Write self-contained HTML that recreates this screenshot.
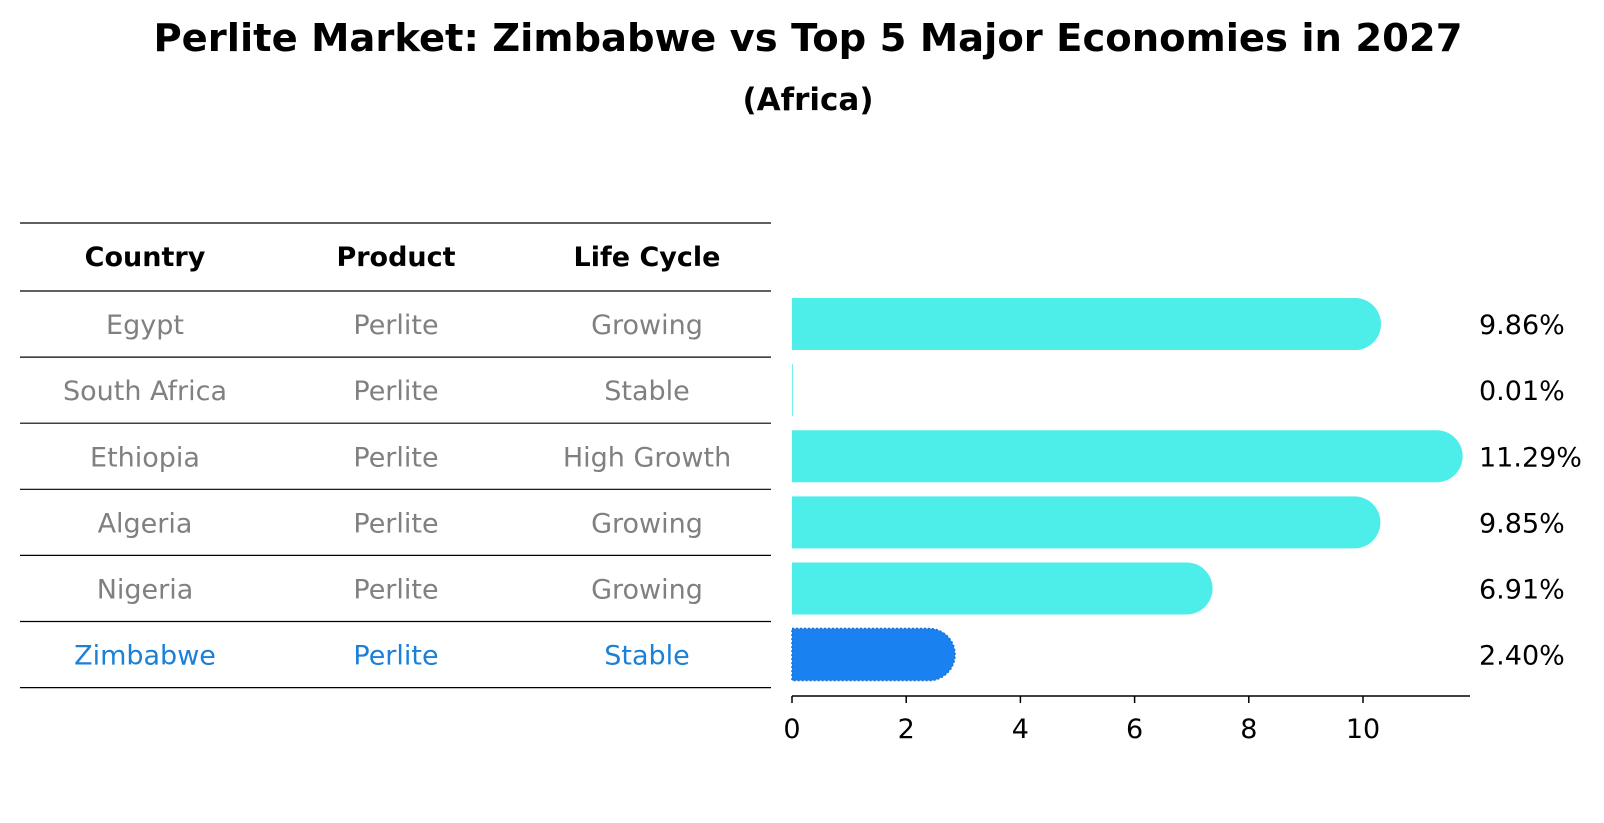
<!DOCTYPE html>
<html><head><meta charset="utf-8"><style>
body{margin:0;background:#fff;}
svg{display:block;font-family:"DejaVu Sans","Liberation Sans",sans-serif;}
</style></head><body>
<svg id="chart" width="1604" height="823" viewBox="0 0 1604 823">
<text x="808" y="51" text-anchor="middle" font-size="38.5" font-weight="bold">Perlite Market: Zimbabwe vs Top 5 Major Economies in 2027</text>
<text x="808" y="110" text-anchor="middle" font-size="31" font-weight="bold">(Africa)</text>
<g id="table"></g>
<g id="bars"></g>
</svg>
<script>
const countries=["Egypt","South Africa","Ethiopia","Algeria","Nigeria","Zimbabwe"];
const products=["Perlite","Perlite","Perlite","Perlite","Perlite","Perlite"];
const lifeCycles=["Growing","Stable","High Growth","Growing","Growing","Stable"];
const values=[9.86,0.01,11.29,9.85,6.91,2.40];
const valueLabels=["9.86%","0.01%","11.29%","9.85%","6.91%","2.40%"];
const ticks=[0,2,4,6,8,10];
const NS="http://www.w3.org/2000/svg";
function mk(tag,attrs,parent,text){const e=document.createElementNS(NS,tag);for(const k in attrs)e.setAttribute(k,attrs[k]);if(text!==undefined)e.textContent=text;parent.appendChild(e);return e;}
const x0=792,unit=57.1,rowTop=291,rowH=66.1,barH=52;
const xs=v=>x0+v*unit;
const rowY=i=>rowTop+rowH*i+rowH/2;
const table=document.getElementById('table');
const bars=document.getElementById('bars');
const colX=[145,396,647];
const hy=(223+291)/2;
["Country","Product","Life Cycle"].forEach((h,j)=>{
 const t=mk('text',{x:colX[j],y:hy+9,'text-anchor':'middle','font-size':27,'font-weight':'bold'},table,h);
 
 
});
const lineYs=[223];for(let i=0;i<=countries.length;i++)lineYs.push(rowTop+rowH*i);
lineYs.forEach(y=>{
 const l=mk('line',{x1:20,x2:771,y1:y,y2:y,stroke:'#000','stroke-width':1.2},table);
 
 
});
countries.forEach((c,i)=>{
 const col=i===countries.length-1?'#1a80d8':'#808080';
 [c,products[i],lifeCycles[i]].forEach((v,j)=>{
  const t=mk('text',{x:colX[j],y:rowY(i)+10,'text-anchor':'middle','font-size':27,fill:col},table,v);
  
  
 });
 const last=i===countries.length-1;
 const w=Math.max(xs(values[i])-x0,0.8);
 const r=values[i]>0.1?barH/2:0;
 const y=rowY(i)-barH/2;
 const p=mk('path',{d:`M${x0},${y} H${x0+w} A${r},${r} 0 0 1 ${x0+w},${y+barH} H${x0} Z`,fill:last?'#1a82f0':'#4deeea'},bars);
 if(r===0)p.setAttribute('d',`M${x0},${y} h${w} v${barH} h${-w} Z`);
 if(last){p.setAttribute('stroke','#1a6fd0');p.setAttribute('stroke-dasharray','2,2');p.setAttribute('stroke-width','1.5');}
 
 
 const t=mk('text',{x:1479,y:rowY(i)+10,'font-size':27,fill:'#000'},bars,valueLabels[i]);
 
 
});
const ax=mk('line',{x1:x0,x2:1470,y1:696,y2:696,stroke:'#000','stroke-width':1.5},bars);


ticks.forEach(v=>{
 const tk=mk('line',{x1:xs(v),x2:xs(v),y1:696,y2:703,stroke:'#000','stroke-width':1.5},bars);
 
 
 const t=mk('text',{x:xs(v),y:738,'text-anchor':'middle','font-size':27},bars,String(v));
 
 
});
</script>
</body></html>
